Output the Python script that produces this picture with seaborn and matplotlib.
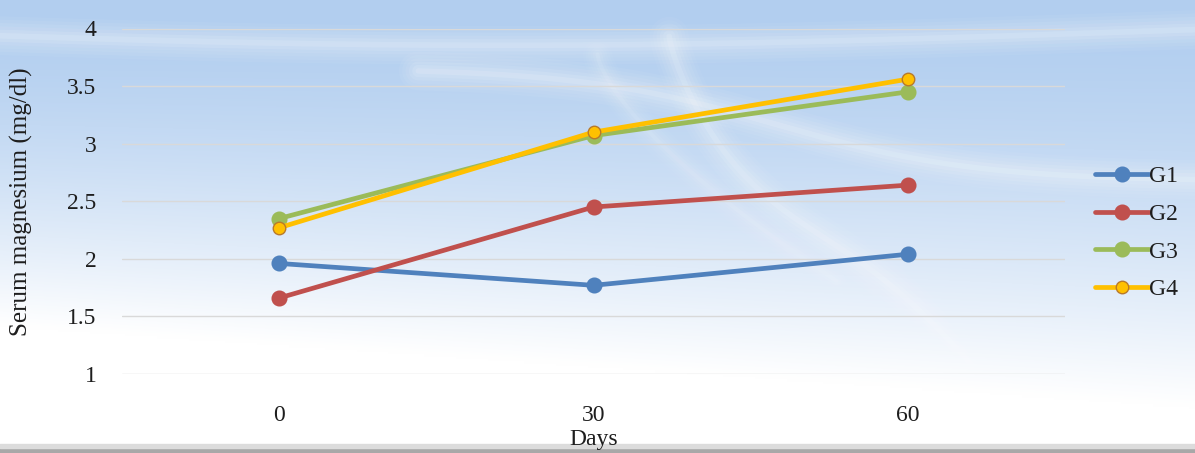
import numpy as np
import pandas as pd
import matplotlib
matplotlib.use("Agg")
import matplotlib.pyplot as plt
import seaborn as sns

days = ["0", "30", "60"]
g1 = [1.96, 1.77, 2.04]
g2 = [1.66, 2.45, 2.64]
g3 = [2.35, 3.07, 3.45]
g4 = [2.27, 3.10, 3.56]
groups = ["G1", "G2", "G3", "G4"]
yticks = [1, 1.5, 2, 2.5, 3, 3.5, 4]

colors = {"G1": "#4F81BD", "G2": "#C0504D", "G3": "#9BBB59", "G4": "#FFC000"}

df = pd.DataFrame({
    "Days": days * 4,
    "value": g1 + g2 + g3 + g4,
    "group": [g for g in groups for _ in days],
})

sns.set_theme(style="white")
plt.rcParams["font.family"] = ["Liberation Serif", "DejaVu Serif"]

W, H = 1195, 453
fig = plt.figure(figsize=(W / 100, H / 100), dpi=100)

# background gradient
bg = fig.add_axes([0, 0, 1, 1], zorder=-10)
yy = np.linspace(0, 1, 200)[:, None]
xx = np.linspace(0, 1, 300)[None, :]
top = np.array([0.70, 0.81, 0.94])
white = np.array([1.0, 1.0, 1.0])
depth = 0.72 + 0.18 * xx
t = np.clip((yy - 0.05) / (depth - 0.05), 0, 1) ** 1.4
img = top[None, None, :] * (1 - t[..., None]) + white[None, None, :] * t[..., None]
bg.imshow(img, aspect="auto", extent=[0, 1, 1, 0], interpolation="bilinear")


def soft(xv, yv, width, alpha):
    for k in range(6):
        bg.plot(xv, yv, color="white", lw=width * (1 + k * 1.2), alpha=alpha / (k + 2.5),
                solid_capstyle="round")


xs = np.linspace(0, 1, 400)
soft(xs, 0.07 + 0.03 * np.sin(3 * xs + 0.3), 4, 0.35)
xw = np.linspace(0.35, 1.0, 300)
soft(xw, 0.15 + 0.25 * (1 / (1 + np.exp(-(xw - 0.65) * 12))), 4, 0.35)
tt = np.linspace(0, 1, 200)
soft(0.56 + 0.28 * tt ** 1.3, 0.08 + 0.82 * tt + 0.05 * np.sin(6 * tt), 4, 0.3)
soft(0.50 + 0.2 * tt, 0.12 + 0.5 * tt ** 0.7, 3, 0.2)

bg.fill_between([0, 1], 0.988, 1.0, color="#a8a8a8")
bg.fill_between([0, 1], 0.980, 0.988, color="#dcdcdc")
bg.set_xlim(0, 1)
bg.set_ylim(1, 0)
bg.axis("off")

ax = fig.add_axes([122 / W, 1 - 374 / H, (1065 - 122) / W, (374 - 28.5) / H])
ax.patch.set_alpha(0)

sns.pointplot(data=df, x="Days", y="value", hue="group", order=days,
              hue_order=groups, palette=colors, markers="o", linestyles="-",
              dodge=False, errorbar=None, ax=ax, markersize=9, linewidth=3.4)

for ln in ax.lines:
    if matplotlib.colors.to_hex(ln.get_color()).upper() == "#FFC000":
        ln.set_markeredgecolor("#B8792A")
        ln.set_markeredgewidth(1.0)

ax.set_xlim(-0.5, 2.5)
ax.set_ylim(1, 4)
ax.set_yticks(yticks)
ax.set_yticklabels([f"{v:g}" for v in yticks])
ax.grid(axis="y", color="#d9d9d9", lw=1)
ax.grid(axis="x", visible=False)
for s in ax.spines.values():
    s.set_visible(False)
ax.tick_params(axis="both", length=0, labelsize=17, colors="#1e1e1e")
ax.tick_params(axis="y", pad=18.5)
ax.tick_params(axis="x", pad=22)
ax.set_xlabel("Days", fontsize=17, color="#1e1e1e")
ax.xaxis.set_label_coords(0.5, -0.158)
ax.set_ylabel("Serum magnesium (mg/dl)", fontsize=18, color="#1e1e1e")
ax.yaxis.set_label_coords(-0.094, 0.5)

leg = ax.legend(loc="center left", bbox_to_anchor=((1095 - 122) / 943, (374 - 233) / 345.5),
                frameon=False, fontsize=17, handlelength=2.3, labelspacing=0.68,
                handletextpad=0.0, borderaxespad=0, borderpad=0)
for txt in leg.get_texts():
    txt.set_color("#1e1e1e")
for h in leg.legend_handles:
    try:
        h.set_linewidth(3.4)
        h.set_markersize(9)
    except Exception:
        pass

fig.savefig("out.png", dpi=100)
